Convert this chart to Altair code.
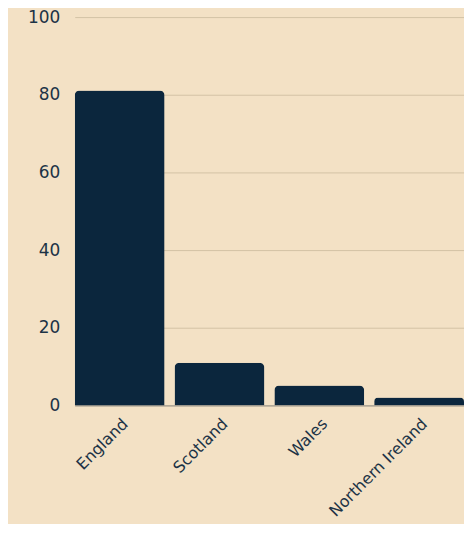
import altair as alt
import pandas as pd

regions = ["England", "Scotland", "Wales", "Northern Ireland"]
values = [81.1, 11.0, 5.1, 2.0]

df = pd.DataFrame({"region": regions, "value": values})

FONT = "DejaVu Sans"
TEXT = "#1c3346"

chart = alt.Chart(df).mark_bar(
    color="#0b263d",
    cornerRadiusTopLeft=5,
    cornerRadiusTopRight=5,
).encode(
    x=alt.X("region:N", sort=regions, title=None,
            scale=alt.Scale(paddingInner=0.1, paddingOuter=0),
            axis=alt.Axis(labelAngle=-45, labelFontSize=16, labelColor=TEXT,
                          labelFont=FONT, ticks=False, domain=True,
                          domainColor="#a39d92", domainWidth=1.2, labelPadding=10)),
    y=alt.Y("value:Q", title=None,
            scale=alt.Scale(domain=[0, 100]),
            axis=alt.Axis(values=[0, 20, 40, 60, 80, 100], labelFontSize=17,
                          labelColor=TEXT, labelFont=FONT, ticks=False,
                          domain=False, labelPadding=15, gridColor="#d3c2a5")),
).properties(
    width=391, height=390, background="#f3e1c5",
    autosize=alt.AutoSizeParams(type="none"),
    padding={"left": 67, "top": 8, "right": 0, "bottom": 118},
).configure_view(stroke=None)

chart.save("out.html", embed_options={"renderer": "svg", "actions": False})
